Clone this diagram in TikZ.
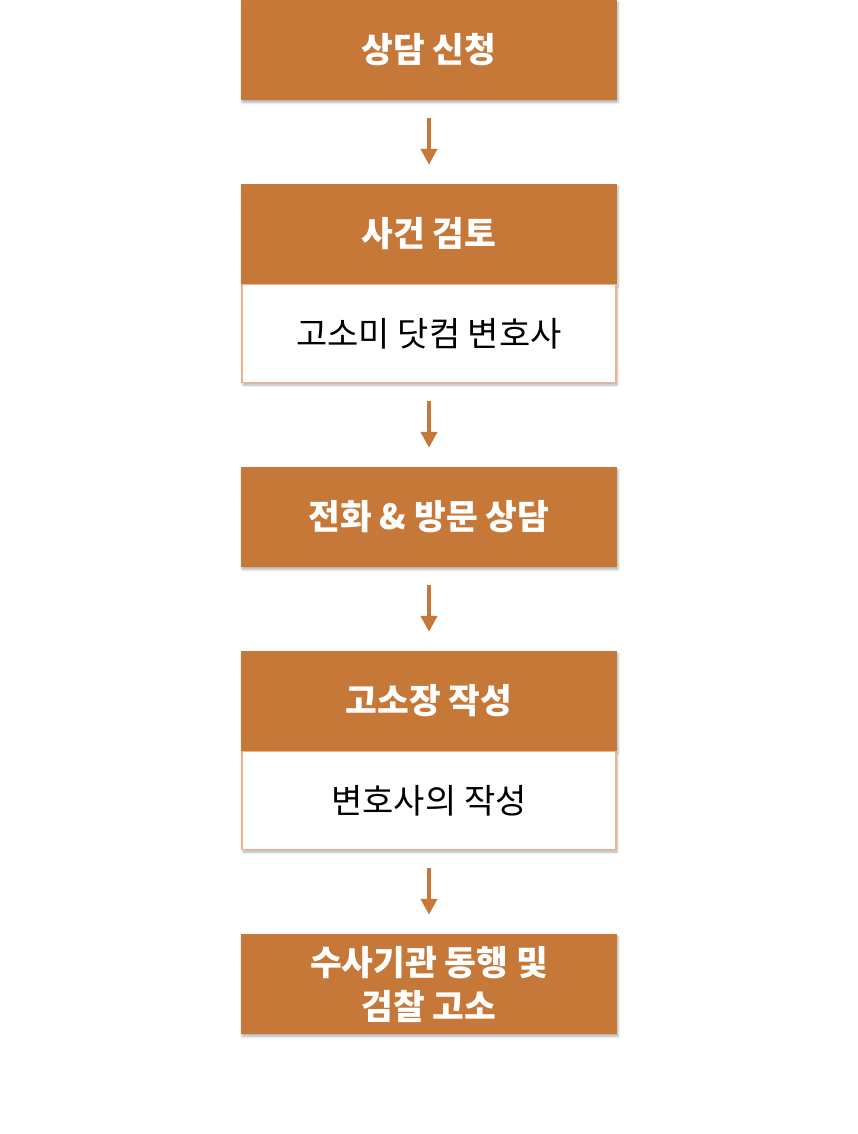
\documentclass[tikz,border=0pt]{standalone}
\usepackage{fontspec}
\setmainfont{Noto Sans CJK KR}
\usetikzlibrary{arrows.meta,shadows.blur}
\definecolor{stepOrange}{HTML}{C57838}
\definecolor{stepLine}{HTML}{F4B183}
\begin{document}
\begin{tikzpicture}[x=1pt, y=1pt,
    head/.style={fill=stepOrange, text=white, minimum width=376pt, minimum height=100pt, inner sep=0pt, align=center, font=\fontsize{34.5}{44}\selectfont\bfseries, blur shadow={shadow xshift=1pt, shadow yshift=-2.5pt, shadow blur steps=6, shadow opacity=30}},
    body/.style={draw=stepLine, line width=1.6pt, fill=white, minimum width=374pt, minimum height=98pt, inner sep=0pt, align=center, font=\fontsize{34}{40}\selectfont, blur shadow={shadow xshift=1pt, shadow yshift=-2.5pt, shadow blur steps=6, shadow opacity=30}},
    flow/.style={-{Triangle[width=16pt, length=16pt]}, line width=4pt, stepOrange, shorten <=18pt, shorten >=19pt}
]
    \useasboundingbox (0,0) rectangle (858,-1134);

    % steps
    \node[head] (apply) at (429,-50) {상담 신청};
    \node[head] (review) at (429,-234) {사건 검토};
    \node[body] (reviewer) at (429,-333.5) {고소미 닷컴 변호사};
    \node[head] (consult) at (429,-517) {전화 \& 방문 상담};
    \node[head] (draft) at (429,-701) {고소장 작성};
    \node[body] (drafter) at (429,-800.5) {변호사의 작성};
    \node[head] (file) at (429,-984) {수사기관 동행 및\\검찰 고소};

    % arrows
    \draw[flow] (apply.south) -- (review.north);
    \draw[flow] (reviewer.south) -- (consult.north);
    \draw[flow] (consult.south) -- (draft.north);
    \draw[flow] (drafter.south) -- (file.north);
\end{tikzpicture}
\end{document}
